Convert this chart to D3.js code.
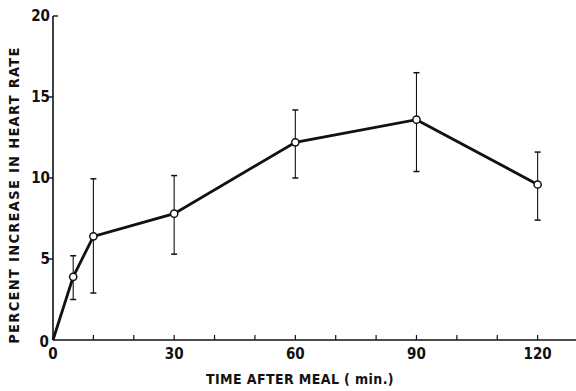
<!DOCTYPE html>
<html>
<head>
<meta charset="utf-8">
<script src="https://cdn.jsdelivr.net/npm/d3@7"></script>
<style>
  body { margin: 0; background: #fff; }
  svg { display: block; }
  text { font-family: "DejaVu Sans Condensed", "DejaVu Sans", sans-serif; font-weight: bold; fill: #111; }
</style>
</head>
<body>
<svg width="576" height="391"></svg>
<script>
// minutes after meal
const times = [0, 5, 10, 30, 60, 90, 120];
// percent increase in heart rate (mean)
const means = [0, 3.9, 6.4, 7.8, 12.2, 13.6, 9.6];
// error bars
const upper = [null, 5.2, 9.95, 10.15, 14.2, 16.5, 11.6];
const lower = [null, 2.5, 2.9, 5.3, 10.0, 10.4, 7.4];
const xTicks = [0, 30, 60, 90, 120];
const xMinor = [10, 20, 40, 50, 70, 80, 100, 110];
const yTicks = [0, 5, 10, 15, 20];

const svg = d3.select('svg');
const ink = '#111';

const x = d3.scaleLinear().domain([0, 129.5]).range([53, 576]);
const y = d3.scaleLinear().domain([0, 20]).range([340, 16]);

// x axis
svg.append('line')
  .attr('x1', x(0)).attr('x2', 576)
  .attr('y1', y(0)).attr('y2', y(0))
  .attr('stroke', ink).attr('stroke-width', 1.6);
svg.selectAll('.xt')
  .data(xTicks.concat(xMinor).filter(d => d > 0))
  .join('line')
  .attr('x1', d => x(d)).attr('x2', d => x(d))
  .attr('y1', y(0)).attr('y2', y(0) - 5)
  .attr('stroke', ink).attr('stroke-width', 1.2);
svg.selectAll('.xl')
  .data(xTicks)
  .join('text')
  .attr('x', d => x(d))
  .attr('y', 359)
  .attr('text-anchor', 'middle')
  .attr('font-size', 15)
  .text(d => d);

// y axis
svg.append('line')
  .attr('x1', x(0)).attr('x2', x(0))
  .attr('y1', y(0)).attr('y2', y(20))
  .attr('stroke', ink).attr('stroke-width', 1.6);
svg.selectAll('.yt')
  .data(yTicks.filter(d => d > 0))
  .join('line')
  .attr('x1', d => d === 20 ? x(0) : x(0) - 5)
  .attr('x2', d => d === 20 ? x(0) + 5 : x(0))
  .attr('y1', d => y(d)).attr('y2', d => y(d))
  .attr('stroke', ink).attr('stroke-width', 1.4);
svg.selectAll('.yl')
  .data(yTicks)
  .join('text')
  .attr('x', d => d === 0 ? 49 : 50)
  .attr('y', d => d === 0 ? y(d) + 7 : y(d) + 5)
  .attr('text-anchor', 'end')
  .attr('font-size', 15)
  .text(d => d);

// axis titles
svg.append('text')
  .attr('x', 300).attr('y', 384)
  .attr('text-anchor', 'middle')
  .attr('font-size', 14)
  .attr('letter-spacing', 0.4)
  .text('TIME AFTER MEAL ( min.)');
svg.append('text')
  .attr('transform', 'translate(19,195) rotate(-90)')
  .attr('text-anchor', 'middle')
  .attr('font-size', 14.5)
  .attr('letter-spacing', 1.3)
  .text('PERCENT INCREASE IN HEART RATE');

const pts = times.map((t, i) => ({ t, m: means[i], hi: upper[i], lo: lower[i] }));

// error bars
const eb = svg.selectAll('.eb').data(pts.filter(d => d.hi !== null)).join('g');
eb.append('line')
  .attr('x1', d => x(d.t)).attr('x2', d => x(d.t))
  .attr('y1', d => y(d.hi)).attr('y2', d => y(d.lo))
  .attr('stroke', ink).attr('stroke-width', 1.1);
eb.selectAll('.cap')
  .data(d => [[d.t, d.hi], [d.t, d.lo]])
  .join('line')
  .attr('x1', d => x(d[0]) - 3).attr('x2', d => x(d[0]) + 3)
  .attr('y1', d => y(d[1])).attr('y2', d => y(d[1]))
  .attr('stroke', ink).attr('stroke-width', 1.5);

// mean line
svg.append('path')
  .datum(pts)
  .attr('fill', 'none')
  .attr('stroke', ink)
  .attr('stroke-width', 2.8)
  .attr('d', d3.line().x(d => x(d.t)).y(d => y(d.m)));

// markers
svg.selectAll('.pt')
  .data(pts.filter(d => d.t > 0))
  .join('circle')
  .attr('cx', d => x(d.t)).attr('cy', d => y(d.m))
  .attr('r', 3.6)
  .attr('fill', '#fff')
  .attr('stroke', ink)
  .attr('stroke-width', 1.5);
</script>
</body>
</html>
